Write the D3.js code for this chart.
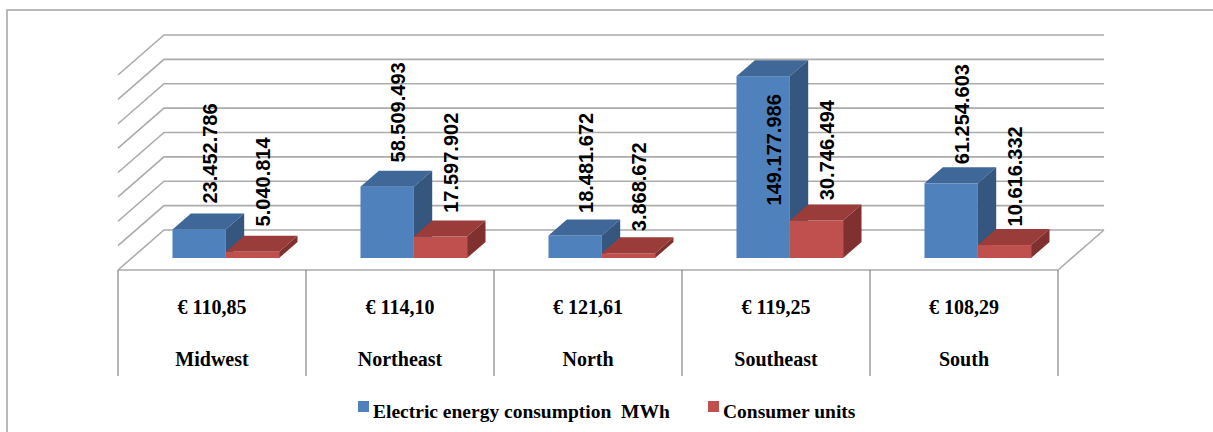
<!DOCTYPE html>
<html>
<head>
<meta charset="utf-8">
<script src="https://cdn.jsdelivr.net/npm/d3@7"></script>
<style>
  html, body { margin: 0; padding: 0; background: #fff; }
  svg { display: block; }
</style>
</head>
<body>
<svg id="chart" width="1213" height="432"></svg>
<script>
// Regional electricity data
const categories = ["Midwest", "Northeast", "North", "Southeast", "South"];
const energyMWh = [23452786, 58509493, 18481672, 149177986, 61254603];
const consumerUnits = [5040814, 17597902, 3868672, 30746494, 10616332];
const avgTariff = [110.85, 114.10, 121.61, 119.25, 108.29];
const seriesNames = ["Electric energy consumption  MWh", "Consumer units"];
const valueMax = 160e6;

const seriesValues = [energyMWh, consumerUnits];
const faceColors = [
  { front: "#4F81BD", top: "#3F6797", side: "#34567F" },
  { front: "#C0504D", top: "#9A3C3A", side: "#80312F" }
];

const locale = d3.formatLocale({ decimal: ",", thousands: ".", grouping: [3], currency: ["€ ", ""] });
const fmtInt = locale.format(",d");
const fmtEuro = locale.format("$,.2f");

const svg = d3.select("#chart");

// Oblique 3D box: front plane and depth offset of the floor
const frontLeft = 118, frontRight = 1058;
const floorFrontY = 270;
const depthX = 46, depthY = -40;
const wallHeight = 195;
const barDepthStart = 0.3, barDepthEnd = 0.7;

const x = d3.scaleBand().domain(categories).range([frontLeft, frontRight]).paddingInner(0).paddingOuter(0);
const xs = d3.scaleBand().domain([0, 1]).range([0, x.bandwidth()]).paddingInner(0).paddingOuter(0.763);
const h = d3.scaleLinear().domain([0, valueMax]).range([0, wallHeight]);

const backFloorY = floorFrontY + depthY;

// outer frame
svg.append("path")
  .attr("d", "M7,432V10H1213")
  .attr("fill", "none").attr("stroke", "#a3a3a3").attr("stroke-width", 1.5);

// back wall gridlines and side wall diagonals
const gridG = svg.append("g").attr("stroke", "#ababab").attr("stroke-width", 1.6).attr("fill", "none");
h.ticks(8).forEach(t => {
  const gy = backFloorY - h(t);
  gridG.append("path")
    .attr("d", `M${frontLeft},${gy - depthY}L${frontLeft + depthX},${gy}H${frontRight + depthX}`);
});
// floor right edge and front edge
gridG.append("path")
  .attr("d", `M${frontRight + depthX},${backFloorY}L${frontRight},${floorFrontY}H${frontLeft}`);

// data table below the floor
const tableG = svg.append("g");
tableG.append("g").attr("stroke", "#8c8c8c").attr("stroke-width", 1.3)
  .selectAll("line").data(d3.range(categories.length + 1)).join("line")
  .attr("x1", i => frontLeft + i * x.bandwidth()).attr("x2", i => frontLeft + i * x.bandwidth())
  .attr("y1", floorFrontY).attr("y2", 376);

const serif = "'Liberation Serif', 'Times New Roman', serif";
tableG.selectAll("text.price").data(categories).join("text")
  .attr("class", "price")
  .attr("x", d => x(d) + x.bandwidth() / 2).attr("y", 313.5)
  .attr("text-anchor", "middle")
  .attr("font-family", serif).attr("font-weight", "bold").attr("font-size", 20)
  .text((d, i) => fmtEuro(avgTariff[i]));
tableG.selectAll("text.name").data(categories).join("text")
  .attr("class", "name")
  .attr("x", d => x(d) + x.bandwidth() / 2).attr("y", 366)
  .attr("text-anchor", "middle")
  .attr("font-family", serif).attr("font-weight", "bold").attr("font-size", 20)
  .text(d => d);

// 3D columns
const bdx = (barDepthEnd - barDepthStart) * depthX;
const bdy = (barDepthEnd - barDepthStart) * depthY;
const barBaseY = floorFrontY + barDepthStart * depthY;
const barShiftX = barDepthStart * depthX;

const bars = [];
categories.forEach((c, ci) => {
  seriesValues.forEach((vals, si) => {
    const x0 = x(c) + xs(si) + barShiftX;
    const x1 = x0 + xs.bandwidth();
    const yTop = barBaseY - h(vals[ci]);
    bars.push({ c, si, v: vals[ci], x0, x1, yTop, yBot: barBaseY });
  });
});

const barG = svg.append("g");
bars.forEach(b => {
  const col = faceColors[b.si];
  const g = barG.append("g");
  g.append("rect").attr("x", b.x0).attr("y", b.yTop)
    .attr("width", b.x1 - b.x0).attr("height", b.yBot - b.yTop).attr("fill", col.front);
  g.append("path").attr("fill", col.top)
    .attr("d", `M${b.x0},${b.yTop}L${b.x0 + bdx},${b.yTop + bdy}H${b.x1 + bdx}L${b.x1},${b.yTop}Z`);
  g.append("path").attr("fill", col.side)
    .attr("d", `M${b.x1},${b.yTop}L${b.x1 + bdx},${b.yTop + bdy}V${b.yBot + bdy}L${b.x1},${b.yBot}Z`);
});

// vertical value labels above each column
const wallTopY = backFloorY - wallHeight;
const labelG = svg.append("g")
  .attr("font-family", "'Liberation Sans', Arial, sans-serif")
  .attr("font-weight", "bold").attr("font-size", 20).attr("fill", "#000");
bars.forEach(b => {
  const cx = (b.x0 + b.x1) / 2 + bdx / 2 + 1;
  // slight perspective: the lift above the column shrinks towards the right
  const lift = 10 - 0.009 * (cx - 200);
  const t = labelG.append("text")
    .attr("text-anchor", "start")
    .attr("dy", "0.36em")
    .text(fmtInt(b.v));
  const len = t.node().getComputedTextLength();
  let yStart = b.yTop + bdy - lift;
  if (yStart - len < wallTopY) {
    // too tall to fit above: place inside the column, hanging from its top
    yStart = b.yTop + 18 + len;
  }
  t.attr("transform", `translate(${cx},${yStart}) rotate(-90)`);
});

// legend
const legendG = svg.append("g")
  .attr("font-family", serif).attr("font-weight", "bold").attr("font-size", 19.5);
const legendX = [358, 708];
seriesNames.forEach((name, i) => {
  legendG.append("rect").attr("x", legendX[i]).attr("y", 401).attr("width", 11).attr("height", 11)
    .attr("fill", faceColors[i].front);
  legendG.append("text").attr("x", legendX[i] + 15).attr("y", 418).attr("xml:space", "preserve")
    .style("white-space", "pre").text(name);
});
</script>
</body>
</html>
